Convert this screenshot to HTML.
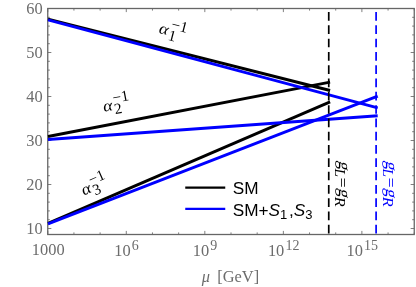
<!DOCTYPE html>
<html><head><meta charset="utf-8"><title>plot</title>
<style>html,body{margin:0;padding:0;background:#fff;}body{width:416px;height:287px;overflow:hidden;}svg{display:block;position:absolute;left:0;top:0;will-change:transform;}text{font-family:"Liberation Serif",serif;}.s{font-family:"Liberation Sans",sans-serif;}</style></head><body>
<svg width="416" height="287" viewBox="0 0 416 287">
<rect x="0" y="0" width="416" height="287" fill="#fff"/>
<path d="M47.75 228.50h3.6M414.25 228.50h-3.6M47.75 219.70h2.1M414.25 219.70h-2.1M47.75 210.90h2.1M414.25 210.90h-2.1M47.75 202.10h2.1M414.25 202.10h-2.1M47.75 193.30h2.1M414.25 193.30h-2.1M47.75 184.50h3.6M414.25 184.50h-3.6M47.75 175.70h2.1M414.25 175.70h-2.1M47.75 166.90h2.1M414.25 166.90h-2.1M47.75 158.10h2.1M414.25 158.10h-2.1M47.75 149.30h2.1M414.25 149.30h-2.1M47.75 140.50h3.6M414.25 140.50h-3.6M47.75 131.70h2.1M414.25 131.70h-2.1M47.75 122.90h2.1M414.25 122.90h-2.1M47.75 114.10h2.1M414.25 114.10h-2.1M47.75 105.30h2.1M414.25 105.30h-2.1M47.75 96.50h3.6M414.25 96.50h-3.6M47.75 87.70h2.1M414.25 87.70h-2.1M47.75 78.90h2.1M414.25 78.90h-2.1M47.75 70.10h2.1M414.25 70.10h-2.1M47.75 61.30h2.1M414.25 61.30h-2.1M47.75 52.50h3.6M414.25 52.50h-3.6M47.75 43.70h2.1M414.25 43.70h-2.1M47.75 34.90h2.1M414.25 34.90h-2.1M47.75 26.10h2.1M414.25 26.10h-2.1M47.75 17.30h2.1M414.25 17.30h-2.1M47.75 8.50h3.6M414.25 8.50h-3.6M47.75 234.50v-3.6M47.75 8.50v3.6M73.93 234.50v-2.1M73.93 8.50v2.1M100.11 234.50v-2.1M100.11 8.50v2.1M126.29 234.50v-3.6M126.29 8.50v3.6M152.46 234.50v-2.1M152.46 8.50v2.1M178.64 234.50v-2.1M178.64 8.50v2.1M204.82 234.50v-3.6M204.82 8.50v3.6M231.00 234.50v-2.1M231.00 8.50v2.1M257.18 234.50v-2.1M257.18 8.50v2.1M283.36 234.50v-3.6M283.36 8.50v3.6M309.54 234.50v-2.1M309.54 8.50v2.1M335.71 234.50v-2.1M335.71 8.50v2.1M361.89 234.50v-3.6M361.89 8.50v3.6M388.07 234.50v-2.1M388.07 8.50v2.1M414.25 234.50v-2.1M414.25 8.50v2.1" stroke="#727272" stroke-width="0.9" fill="none"/>
<rect x="47.75" y="8.5" width="366.5" height="226.0" fill="none" stroke="#666666" stroke-width="1.3"/>
<g clip-path="url(#c)">
<defs><clipPath id="c"><rect x="47.15" y="8.5" width="366.5" height="226.0"/></clipPath></defs>
<line x1="48" y1="19.1" x2="330.1" y2="90.5" stroke="#000" stroke-width="2.9"/>
<line x1="48" y1="136.5" x2="330.1" y2="82.1" stroke="#000" stroke-width="2.9"/>
<line x1="48" y1="223.4" x2="330.1" y2="101.9" stroke="#000" stroke-width="2.9"/>
<line x1="48" y1="19.8" x2="377.7" y2="107.9" stroke="#0000ff" stroke-width="2.9"/>
<line x1="48" y1="139.5" x2="377.7" y2="115.7" stroke="#0000ff" stroke-width="2.9"/>
<line x1="48" y1="223.9" x2="377.7" y2="96.2" stroke="#0000ff" stroke-width="2.9"/>
</g>
<line x1="328.75" y1="233.55" x2="328.75" y2="8.5" stroke="#000" stroke-width="1.7" stroke-dasharray="8.7 4.6"/>
<line x1="376.1" y1="233.55" x2="376.1" y2="8.5" stroke="#0000ff" stroke-width="1.7" stroke-dasharray="8.7 4.6"/>
<text x="42.6" y="233.80" font-size="16.4" fill="#6c6c6c" text-anchor="end">10</text>
<text x="42.6" y="189.80" font-size="16.4" fill="#6c6c6c" text-anchor="end">20</text>
<text x="42.6" y="145.80" font-size="16.4" fill="#6c6c6c" text-anchor="end">30</text>
<text x="42.6" y="101.80" font-size="16.4" fill="#6c6c6c" text-anchor="end">40</text>
<text x="42.6" y="57.80" font-size="16.4" fill="#6c6c6c" text-anchor="end">50</text>
<text x="42.6" y="13.80" font-size="16.4" fill="#6c6c6c" text-anchor="end">60</text>
<text x="48.25" y="255.4" font-size="16.4" fill="#6c6c6c" text-anchor="middle">1000</text>
<text x="126.59" y="256.0" font-size="16.4" fill="#6c6c6c" text-anchor="middle">10<tspan font-size="14" dy="-6" dx="1.1">6</tspan></text>
<text x="205.12" y="256.0" font-size="16.4" fill="#6c6c6c" text-anchor="middle">10<tspan font-size="14" dy="-6" dx="1.1">9</tspan></text>
<text x="283.66" y="256.0" font-size="16.4" fill="#6c6c6c" text-anchor="middle">10<tspan font-size="14" dy="-6" dx="1.1">12</tspan></text>
<text x="362.19" y="256.0" font-size="16.4" fill="#6c6c6c" text-anchor="middle">10<tspan font-size="14" dy="-6" dx="1.1">15</tspan></text>
<text x="201.8" y="282.4" font-size="16.4" fill="#6c6c6c"><tspan font-style="italic">μ</tspan><tspan dx="7.2">[GeV]</tspan></text>
<line x1="185.25" y1="187.7" x2="225.25" y2="187.7" stroke="#000" stroke-width="2.3"/>
<line x1="185.25" y1="208.95" x2="225.25" y2="208.95" stroke="#0000ff" stroke-width="2.3"/>
<text class="s" x="232.7" y="194.3" font-size="17.2" fill="#000">SM</text>
<text class="s" x="232.7" y="215.6" font-size="17.2" fill="#000">SM+<tspan font-style="italic">S</tspan><tspan font-size="13" dy="3.2">1</tspan><tspan dy="-3.2" dx="1.8">,</tspan><tspan font-style="italic">S</tspan><tspan font-size="13" dy="3.2">3</tspan></text>
<g transform="translate(164.15 30.15) rotate(14.5)"><g transform="scale(1.12 1)"><text x="-4.5" y="3.9" font-size="16" font-style="italic" fill="#000">α</text></g><text x="5.5" y="8.5" font-size="15.3" fill="#000">1</text><text x="5.9" y="-2.9" font-size="15.3" fill="#000">−1</text></g>
<g transform="translate(108.25 107.05) rotate(-10.9)"><g transform="scale(1.12 1)"><text x="-4.5" y="3.9" font-size="16" font-style="italic" fill="#000">α</text></g><text x="5.5" y="8.5" font-size="15.3" fill="#000">2</text><text x="5.9" y="-2.9" font-size="15.3" fill="#000">−1</text></g>
<g transform="translate(86.75 189.9) rotate(-23.3)"><g transform="scale(1.12 1)"><text x="-4.5" y="3.9" font-size="16" font-style="italic" fill="#000">α</text></g><text x="5.5" y="8.5" font-size="15.3" fill="#000">3</text><text x="5.9" y="-2.9" font-size="15.3" fill="#000">−1</text></g>
<g transform="translate(338.6 159.8) rotate(90)" fill="#000"><g transform="translate(0.6 0) skewX(-15)"><text x="0" y="0" font-size="17.3">g</text></g><text x="8.6" y="3.4" font-size="15" font-style="italic">L</text><text x="17.9" y="1.5" font-size="17.3">=</text><g transform="translate(28.2 0) skewX(-15)"><text x="0" y="0" font-size="17.3">g</text></g><g transform="translate(36.9 3.4) scale(1.09 1)"><text x="0" y="0" font-size="15" font-style="italic">R</text></g></g>
<g transform="translate(386.4 159.8) rotate(90)" fill="#0000ff"><g transform="translate(0.6 0) skewX(-15)"><text x="0" y="0" font-size="17.3">g</text></g><text x="8.6" y="3.4" font-size="15" font-style="italic">L</text><text x="17.9" y="1.5" font-size="17.3">=</text><g transform="translate(28.2 0) skewX(-15)"><text x="0" y="0" font-size="17.3">g</text></g><g transform="translate(36.9 3.4) scale(1.09 1)"><text x="0" y="0" font-size="15" font-style="italic">R</text></g></g>
</svg></body></html>
